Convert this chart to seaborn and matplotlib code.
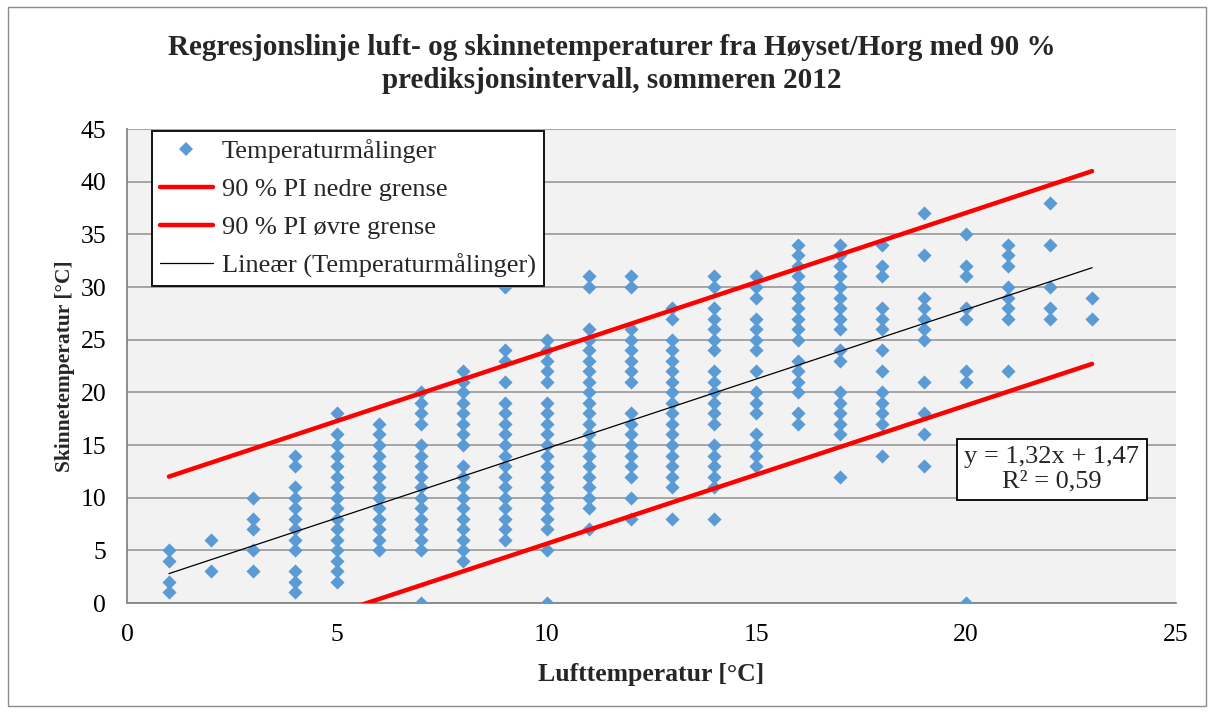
import matplotlib
matplotlib.use("Agg")
import matplotlib.pyplot as plt
from matplotlib.lines import Line2D
from matplotlib.patches import Rectangle
import seaborn as sns
import pandas as pd

# Skin temperature readings (°C) grouped by the air temperature (°C) at which they were taken
skin_readings = {
    1: [5, 4, 2, 1],
    2: [6, 3],
    3: [10, 8, 7, 5, 3],
    4: [14, 13, 11, 10, 9, 8, 7, 6, 5, 3, 2, 1],
    5: [18, 16, 15, 14, 13, 12, 11, 10, 9, 8, 7, 6, 5, 4, 3, 2],
    6: [17, 16, 15, 14, 13, 12, 11, 10, 9, 8, 7, 6, 5],
    7: [20, 19, 18, 17, 15, 14, 13, 12, 11, 10, 9, 8, 7, 6, 5, 0],
    8: [22, 21, 20, 19, 18, 17, 16, 15, 13, 12, 11, 10, 9, 8, 7, 6, 5, 4],
    9: [30, 24, 23, 21, 19, 18, 17, 16, 15, 14, 13, 12, 11, 10, 9, 8, 7, 6],
    10: [25, 24, 23, 22, 21, 19, 18, 17, 16, 15, 14, 13, 12, 11, 10, 9, 8, 7, 5, 0],
    11: [31, 30, 26, 25, 24, 23, 22, 21, 20, 19, 18, 17, 16, 15, 14, 13, 12, 11, 10, 9, 7],
    12: [31, 30, 26, 25, 24, 23, 22, 21, 18, 17, 16, 15, 14, 13, 12, 10, 8],
    13: [28, 27, 25, 24, 23, 22, 21, 20, 19, 18, 17, 16, 15, 14, 13, 12, 11, 8],
    14: [31, 30, 28, 27, 26, 25, 24, 22, 21, 20, 19, 18, 17, 15, 14, 13, 12, 11, 8],
    15: [31, 30, 29, 27, 26, 25, 24, 22, 20, 19, 18, 16, 15, 14, 13],
    16: [34, 33, 32, 31, 30, 29, 28, 27, 26, 25, 23, 22, 21, 20, 18, 17],
    17: [34, 33, 32, 31, 30, 29, 28, 27, 26, 24, 23, 20, 19, 18, 17, 16, 12],
    18: [34, 32, 31, 28, 27, 26, 24, 22, 20, 19, 18, 17, 14],
    19: [37, 33, 29, 28, 27, 26, 25, 21, 18, 16, 13],
    20: [35, 32, 31, 28, 27, 22, 21, 0],
    21: [34, 33, 32, 30, 29, 28, 27, 22],
    22: [38, 34, 30, 28, 27],
    23: [29, 27],
}

# Linear trend line (Excel trendline) and 90 % prediction interval limits
trend_slope = 1.32
trend_intercept = 1.47
trend_r2 = 0.59
line_x = [1, 23]
pi_lower = [-6.2, 22.7]
pi_upper = [12.0, 41.0]

x_ticks = [0, 5, 10, 15, 20, 25]
y_ticks = [0, 5, 10, 15, 20, 25, 30, 35, 40, 45]

title = ("Regresjonslinje luft- og skinnetemperaturer fra Høyset/Horg med 90 %\n"
         "prediksjonsintervall, sommeren 2012")
x_label = "Lufttemperatur [°C]"
y_label = "Skinnetemperatur [°C]"
legend_labels = ["Temperaturmålinger", "90 % PI nedre grense",
                 "90 % PI øvre grense", "Lineær (Temperaturmålinger)"]

points = pd.DataFrame(
    [(air, skin) for air, values in skin_readings.items() for skin in values],
    columns=["air", "skin"],
)
trend = pd.DataFrame({"x": line_x,
                      "y": [trend_slope * v + trend_intercept for v in line_x]})
lower = pd.DataFrame({"x": line_x, "y": pi_lower})
upper = pd.DataFrame({"x": line_x, "y": pi_upper})

sns.set_theme(style="white")
plt.rcParams["font.family"] = ["Liberation Serif", "DejaVu Serif"]

BLUE = "#5B9BD5"
GRID = "#A0A0A0"
AXIS = "#868686"

W, H = 1214, 712
fig = plt.figure(figsize=(W / 100, H / 100), dpi=100)
fig.patch.set_facecolor("white")
ax = fig.add_axes([127 / W, 1 - 603 / H, 1049 / W, 474 / H])
ax.set_facecolor("#F2F2F2")

sns.scatterplot(data=points, x="air", y="skin", ax=ax, marker="D", s=52,
                color=BLUE, linewidth=0, zorder=3, legend=False)
sns.lineplot(data=lower, x="x", y="y", ax=ax, color="#FF0000", lw=3.2,
             sort=False, estimator=None, zorder=4, legend=False,
             solid_capstyle="round")
sns.lineplot(data=upper, x="x", y="y", ax=ax, color="#FF0000", lw=3.2,
             sort=False, estimator=None, zorder=4, legend=False,
             solid_capstyle="round")
sns.lineplot(data=trend, x="x", y="y", ax=ax, color="black", lw=0.9,
             sort=False, estimator=None, zorder=5, legend=False)

ax.set_xlim(0, 25)
ax.set_ylim(0, 45)
ax.set_xticks(x_ticks)
ax.set_yticks(y_ticks)
ax.yaxis.grid(True, color=GRID, lw=1.3)
ax.xaxis.grid(False)
ax.set_axisbelow(True)
for side in ["top", "right"]:
    ax.spines[side].set_visible(False)
for side in ["left", "bottom"]:
    ax.spines[side].set_color(AXIS)
    ax.spines[side].set_linewidth(1.3)
ax.tick_params(axis="both", which="major", direction="out", length=5,
               width=1.2, color=AXIS, labelsize=18.5, labelcolor="black")
ax.tick_params(axis="x", pad=10)
ax.tick_params(axis="y", pad=10)

ax.set_xlabel(x_label, fontsize=18.5, fontweight="bold", labelpad=12)
ax.set_ylabel(y_label, fontsize=15.5, fontweight="bold", labelpad=4)

fig.text(0.504, 1 - 64 / H, title, ha="center", va="center", fontsize=21,
         fontweight="bold", linespacing=1.28)

handles = [
    Line2D([], [], marker="D", color=BLUE, ls="none", markersize=7.2,
           markeredgewidth=0),
    Line2D([], [], color="#FF0000", lw=3.2),
    Line2D([], [], color="#FF0000", lw=3.2),
    Line2D([], [], color="black", lw=0.9),
]
leg = ax.legend(handles, legend_labels, loc="upper left",
                bbox_to_anchor=((152 - 127) / 1049, 1 - (131 - 129) / 474),
                frameon=True, fancybox=False, edgecolor="black", framealpha=1,
                facecolor="white", fontsize=19, handlelength=2.0,
                handletextpad=0.35, labelspacing=0.55, borderpad=0.3,
                borderaxespad=0)
leg.get_frame().set_linewidth(1.3)
leg.set_zorder(10)

ax.text(22.04, 12.7,
        f"y = {trend_slope:.2f}x + {trend_intercept:.2f}".replace(".", ",")
        + "\n" + f"R² = {trend_r2:.2f}".replace(".", ","),
        ha="center", va="center", fontsize=19, linespacing=1.12, zorder=10,
        bbox=dict(boxstyle="square,pad=0.28", fc="white", ec="black", lw=1.3))

fig.patches.append(Rectangle((8 / W, 6 / H), (1206 - 8) / W, (705 - 6) / H,
                             transform=fig.transFigure, fill=False,
                             ec="#8C8C8C", lw=1.0))

fig.savefig("out.png", dpi=100)
